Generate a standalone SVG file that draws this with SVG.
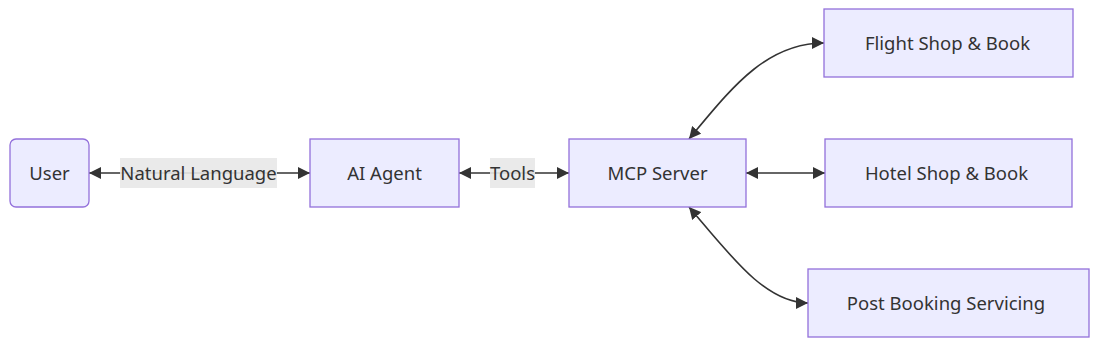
<svg xmlns="http://www.w3.org/2000/svg" width="1098" height="345" viewBox="0 0 1098 345">
<style>
.node rect{fill:#ECECFF;stroke:#9370DB;stroke-width:1.3}
text{font-family:"Noto Sans","DejaVu Sans",sans-serif;font-size:18.5px;fill:#333;text-anchor:middle;dominant-baseline:central}
.edge{fill:none;stroke:#333;stroke-width:1.6;marker-start:url(#ah);marker-end:url(#ah)}
.lbl rect{fill:#e8e8e8;opacity:0.9}
</style>
<defs>
<marker id="ah" viewBox="0 0 10 10" refX="10" refY="5" markerUnits="userSpaceOnUse" markerWidth="12" markerHeight="12" orient="auto-start-reverse">
<path d="M0,0 L10,5 L0,10 z" fill="#333"/>
</marker>
</defs>
<g id="connectors">
<path class="edge" d="M89,173 L310,173"/>
<path class="edge" d="M459,173 L569,173"/>
<path class="edge" d="M746,173 L825,173"/>
<path class="edge" d="M689,139 C730,90 765,43 824,43"/>
<path class="edge" d="M689,207 C730,255 765,303 808,303"/>
<g class="lbl"><rect x="120" y="158" width="157" height="30"/><text x="198.5" y="172">Natural Language</text></g>
<g class="lbl"><rect x="490" y="158" width="45" height="30"/><text x="512.5" y="172">Tools</text></g>
</g>
<g id="user" class="node"><rect x="10" y="139" width="79" height="68" rx="6"/><text x="49.5" y="172">User</text></g>
<g id="agent" class="node"><rect x="310" y="139" width="149" height="68"/><text x="384.5" y="172">AI Agent</text></g>
<g id="mcp" class="node"><rect x="569" y="139" width="177" height="68"/><text x="657.5" y="172">MCP Server</text></g>
<g id="flight" class="node"><rect x="824" y="9" width="249" height="68"/><text x="947.5" y="42">Flight Shop &amp; Book</text></g>
<g id="hotel" class="node"><rect x="825" y="139" width="247" height="68"/><text x="946.5" y="172">Hotel Shop &amp; Book</text></g>
<g id="post" class="node"><rect x="808" y="269" width="281" height="68"/><text x="946" y="302">Post Booking Servicing</text></g>
</svg>
